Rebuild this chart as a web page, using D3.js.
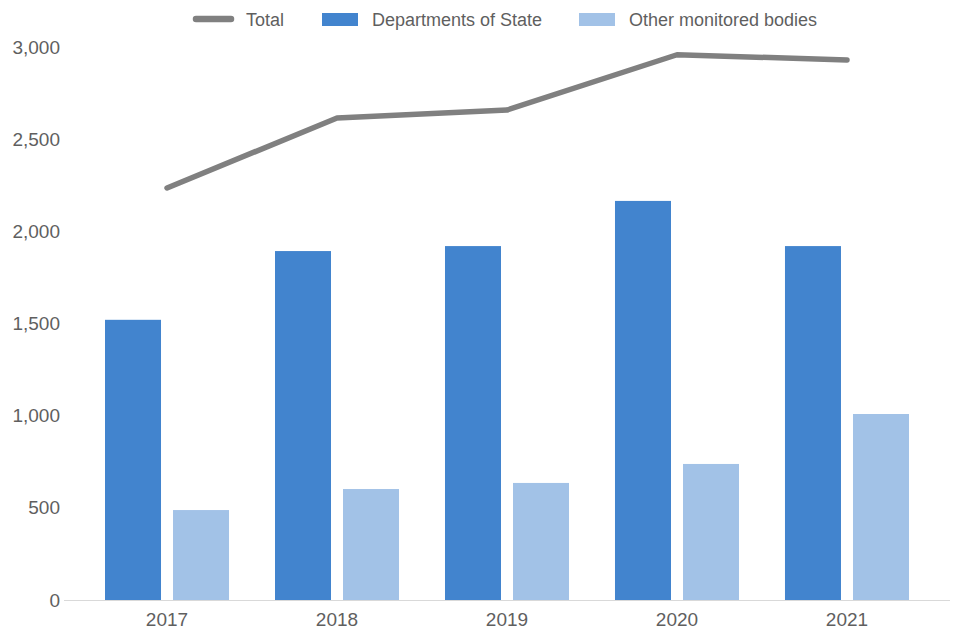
<!DOCTYPE html>
<html>
<head>
<meta charset="utf-8">
<script src="https://cdn.jsdelivr.net/npm/d3@7"></script>
<style>
    body { margin: 0; background: #fff; }
    text { font-family: Arial, "Liberation Sans", sans-serif; fill: #5f5f5f; }
</style>
</head>
<body>
<div id="chart-container"></div>
<script>
// data
var years = ["2017", "2018", "2019", "2020", "2021"];
var departments = [1520, 1893, 1920, 2165, 1920];
var otherBodies = [488, 602, 635, 738, 1009];
var totals = [2235, 2615, 2658, 2958, 2930];
var yTicks = [0, 500, 1000, 1500, 2000, 2500, 3000];

var seriesNames = ["Departments of State", "Other monitored bodies"];
var seriesColors = ["#4284ce", "#a2c2e7"];

var settings = {
    w: 960,
    h: 640,
    left: 64,
    right: 950,
    top: 47,
    bottom: 600
};

var svg = d3.select("#chart-container").append("svg")
    .attr("width", settings.w)
    .attr("height", settings.h);

var xScale = d3.scaleBand()
    .domain(years)
    .range([settings.left, settings.right])
    .paddingInner(0)
    .paddingOuter(0.106);

var xInner = d3.scaleBand()
    .domain(seriesNames)
    .range([0, xScale.bandwidth()])
    .paddingInner(0.1765)
    .paddingOuter(0.338);

var yScale = d3.scaleLinear()
    .domain([0, 3000])
    .range([settings.bottom, settings.top]);

var rows = years.map(function(y, i) {
    return { year: y, values: [departments[i], otherBodies[i]], total: totals[i] };
});

// bars
var groups = svg.selectAll("g.year")
    .data(rows)
    .enter()
    .append("g")
    .attr("class", "year")
    .attr("transform", function(d) { return "translate(" + xScale(d.year) + ",0)"; });

groups.selectAll("rect")
    .data(function(d) {
        return d.values.map(function(v, i) { return { name: seriesNames[i], value: v, color: seriesColors[i] }; });
    })
    .enter()
    .append("rect")
    .attr("x", function(d) { return xInner(d.name); })
    .attr("y", function(d) { return yScale(d.value); })
    .attr("width", xInner.bandwidth())
    .attr("height", function(d) { return yScale(0) - yScale(d.value); })
    .attr("fill", function(d) { return d.color; });

// x axis
var xAxis = d3.axisBottom(xScale).tickSize(0).tickPadding(13);
var xAxisDom = svg.append("g")
    .attr("class", "x-axis")
    .attr("transform", "translate(0," + settings.bottom + ")")
    .call(xAxis);
xAxisDom.select(".domain").remove();
xAxisDom.selectAll("text").style("font-size", "19px").attr("fill", "#5f5f5f");
svg.append("line")
    .attr("x1", settings.left).attr("x2", settings.right)
    .attr("y1", yScale(0) + 0.5).attr("y2", yScale(0) + 0.5)
    .attr("stroke", "#d9d9d9")
    .attr("stroke-width", 1);

// y axis
var yAxis = d3.axisLeft(yScale).tickValues(yTicks).tickFormat(d3.format(",")).tickSize(0).tickPadding(4);
var yAxisDom = svg.append("g")
    .attr("class", "y-axis")
    .attr("transform", "translate(" + settings.left + ",0)")
    .call(yAxis);
yAxisDom.select(".domain").remove();
yAxisDom.selectAll("text").style("font-size", "19px").attr("fill", "#5f5f5f");

// total line
var line = d3.line()
    .x(function(d) { return xScale(d.year) + xScale.bandwidth() / 2; })
    .y(function(d) { return yScale(d.total); });

svg.append("path")
    .datum(rows)
    .attr("d", line)
    .attr("fill", "none")
    .attr("stroke", "#808080")
    .attr("stroke-width", 5.5)
    .attr("stroke-linecap", "round")
    .attr("stroke-linejoin", "round");

// legend
var legend = svg.append("g").attr("class", "legend");
legend.append("line")
    .attr("x1", 196).attr("x2", 231)
    .attr("y1", 19).attr("y2", 19)
    .attr("stroke", "#808080")
    .attr("stroke-width", 6.5)
    .attr("stroke-linecap", "round");
legend.append("text").attr("x", 246).attr("y", 25.5).style("font-size", "18px").text("Total");

var legendX = [322, 579];
var legendTextX = [372, 629];
seriesNames.forEach(function(name, i) {
    legend.append("rect")
        .attr("x", legendX[i]).attr("y", 13)
        .attr("width", 36).attr("height", 13)
        .attr("fill", seriesColors[i]);
    legend.append("text")
        .attr("x", legendTextX[i]).attr("y", 25.5)
        .style("font-size", "18px")
        .text(name);
});
</script>
</body>
</html>
